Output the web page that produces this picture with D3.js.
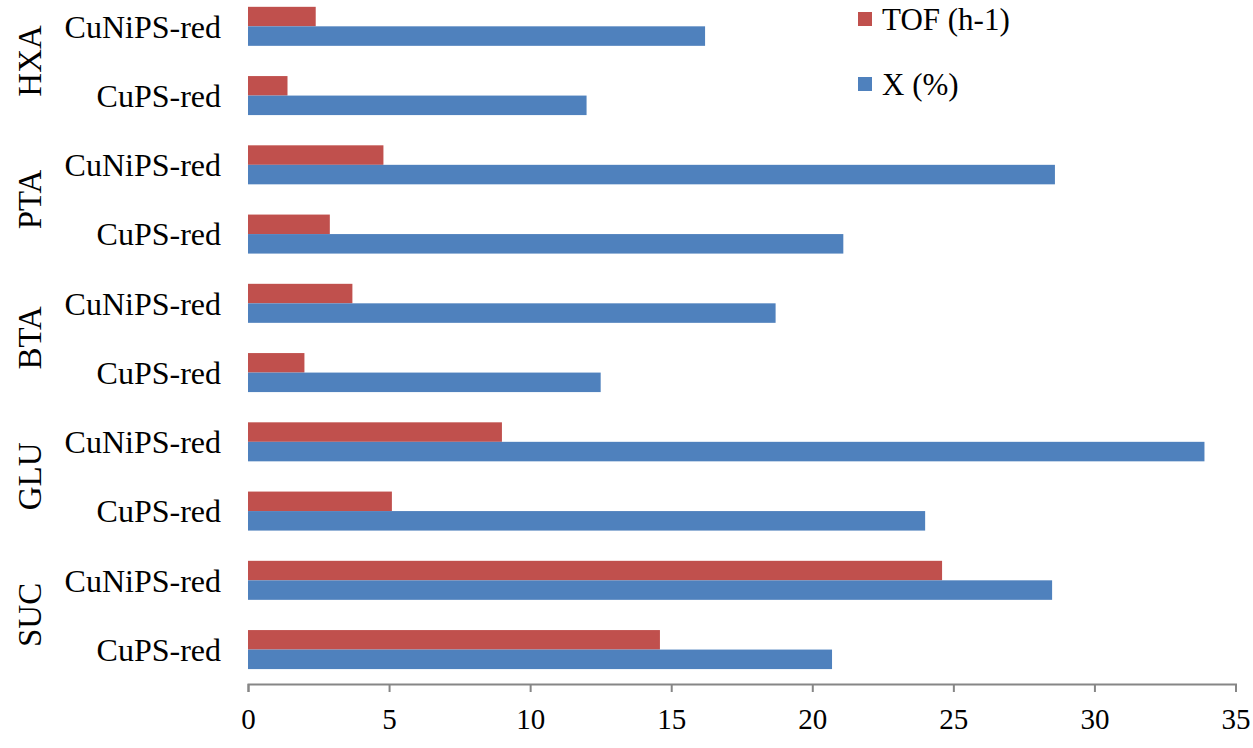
<!DOCTYPE html>
<meta charset="utf-8">
<style>
  body { margin: 0; background: #fff; }
  text { font-family: "Liberation Serif", "Times New Roman", serif; fill: #000; }
</style>
<body>
<svg id="chart" width="1253" height="748"></svg>
</body>
<script src="https://d3js.org/d3.v7.min.js"></script>
<script>
// values, bottom row first
var groups = ["SUC", "GLU", "BTA", "PTA", "HXA"];
var catalysts = ["CuPS-red", "CuNiPS-red"];
var tofValues = [14.6, 24.6, 5.1, 9.0, 2.0, 3.7, 2.9, 4.8, 1.4, 2.4];
var convValues = [20.7, 28.5, 24.0, 33.9, 12.5, 18.7, 21.1, 28.6, 12.0, 16.2];
var seriesNames = ["TOF (h-1)", "X (%)"];
var seriesColors = ["#C0504D", "#4F81BD"];
var xTicks = [0, 5, 10, 15, 20, 25, 30, 35];

// one row per group/catalyst pair
var rows = [];
groups.forEach(function(g, gi) {
  catalysts.forEach(function(c, ci) {
    var i = gi * catalysts.length + ci;
    rows.push({id: g + "|" + c, group: g, cat: c, values: [tofValues[i], convValues[i]]});
  });
});

var svg = d3.select("#chart");

var x = d3.scaleLinear().domain([0, 35]).range([248, 1235.5]);
var y = d3.scaleBand().domain(rows.map(function(d) { return d.id; })).range([684.2, -8.3]);
var ySub = d3.scaleBand().domain(seriesNames).range([0, y.bandwidth()]).paddingOuter(0.775);

// bars
var rowG = svg.selectAll("g.row").data(rows).enter().append("g")
  .attr("class", "row")
  .attr("transform", function(d) { return "translate(0," + y(d.id) + ")"; });

rowG.selectAll("rect").data(function(d) {
    return d.values.map(function(v, k) { return {name: seriesNames[k], value: v, k: k}; });
  }).enter().append("rect")
  .attr("x", x(0))
  .attr("y", function(d) { return ySub(d.name); })
  .attr("height", ySub.bandwidth())
  .attr("width", function(d) { return x(d.value) - x(0); })
  .attr("fill", function(d) { return seriesColors[d.k]; });

// catalyst labels
rowG.append("text")
  .attr("x", 221)
  .attr("y", y.bandwidth() / 2)
  .attr("dy", "0.35em")
  .attr("text-anchor", "end")
  .style("font-size", "32px")
  .text(function(d) { return d.cat; });

// group labels, rotated
svg.selectAll("text.group").data(groups).enter().append("text")
  .attr("class", "group")
  .attr("transform", function(g) {
    var cy = (y(g + "|" + catalysts[0]) + y(g + "|" + catalysts[1]) + y.bandwidth()) / 2;
    return "translate(29," + cy + ") rotate(-90)";
  })
  .attr("dy", "0.35em")
  .attr("text-anchor", "middle")
  .style("font-size", "33px")
  .text(function(g) { return g; });

// x axis
var xAxis = svg.append("g")
  .attr("transform", "translate(0,684)")
  .call(d3.axisBottom(x).tickValues(xTicks).tickSize(8).tickSizeOuter(8).tickFormat(d3.format("d")));
xAxis.select(".domain").attr("stroke", "#868686").attr("stroke-width", 2);
xAxis.selectAll(".tick line").attr("stroke", "#868686").attr("stroke-width", 2);
xAxis.selectAll(".tick text")
  .attr("y", 35).attr("dy", "0.35em")
  .style("font-size", "29px")
  .style("font-family", "'Liberation Serif', serif")
  .attr("fill", "#000");

// legend
var legend = svg.selectAll("g.legend").data(seriesNames).enter().append("g")
  .attr("class", "legend")
  .attr("transform", function(d, i) { return "translate(858," + (12 + i * 65) + ")"; });
legend.append("rect").attr("width", 14).attr("height", 14)
  .attr("fill", function(d, i) { return seriesColors[i]; });
legend.append("text")
  .attr("x", 24).attr("y", 7).attr("dy", "0.35em")
  .style("font-size", "31px")
  .text(function(d) { return d; });
</script>
